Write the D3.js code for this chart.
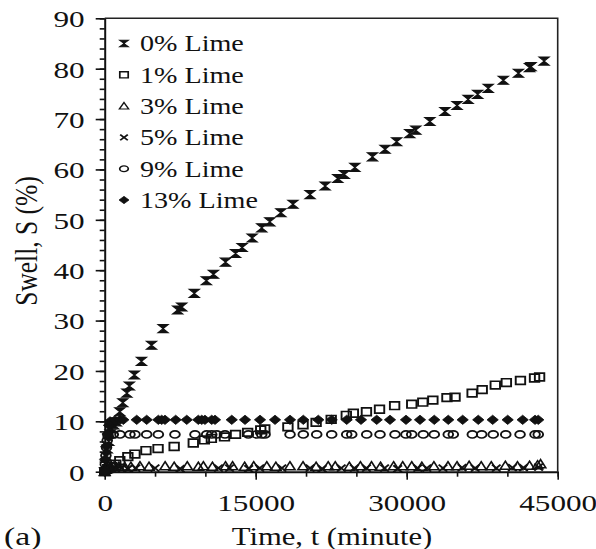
<!DOCTYPE html>
<html>
<head>
<meta charset="utf-8">
<script src="https://d3js.org/d3.v7.min.js"></script>
<style>
  html, body { margin: 0; padding: 0; background: #fff; }
  svg text { font-family: "Liberation Serif", "Times New Roman", serif; fill: #111; }
</style>
</head>
<body>
<div id="chart"></div>
<script>
// Swell vs time for lime contents
const legendLabels = ['0% Lime', '1% Lime', '3% Lime', '5% Lime', '9% Lime', '13% Lime']
const xTicks = [0, 15000, 30000, 45000]
const yTicks = [0, 10, 20, 30, 40, 50, 60, 70, 80, 90]

const t0 = [0, 60, 150, 250, 400, 550, 700, 900, 1150, 1500, 1800, 2200, 2450, 2950, 3650, 4650, 5800, 7250, 7650, 8900, 10100, 10800, 12000, 13000, 13650, 14650, 15600, 16400, 17500, 18700, 20400, 21900, 23150, 23800, 24850, 26600, 27850, 29000, 30300, 30900, 32300, 33800, 35000, 36100, 37050, 38100, 39600, 41100, 42200, 42350, 43650]
const s0 = [0, 1.5, 3, 4.5, 6, 7.5, 8.5, 9.3, 9.9, 11.9, 13.7, 15.6, 17.0, 19.2, 21.9, 25.1, 28.4, 32.1, 32.7, 35.4, 37.9, 39.2, 41.6, 43.3, 44.5, 46.4, 48.4, 49.6, 51.4, 53.1, 55.0, 56.7, 58.2, 59.0, 60.4, 62.5, 64.0, 65.5, 67.1, 67.8, 69.5, 71.5, 72.7, 73.9, 74.9, 76.1, 77.7, 79.1, 80.2, 80.4, 81.5]

const t1 = [0, 300, 700, 1100, 1500, 2300, 3000, 4100, 5300, 6900, 8800, 9900, 10600, 11900, 13000, 14200, 15500, 15900, 18200, 19700, 21000, 22500, 24000, 24700, 26000, 27300, 28800, 30500, 31600, 32600, 34000, 34800, 36500, 37500, 38800, 39900, 41300, 42700, 43200]
const s1 = [0, 0.6, 1.0, 1.5, 2.2, 3.0, 3.5, 4.2, 4.6, 5.0, 5.7, 6.3, 6.6, 6.9, 7.4, 7.8, 8.3, 8.5, 8.9, 9.3, 9.8, 10.4, 11.2, 11.6, 11.9, 12.4, 13.1, 13.4, 13.8, 14.2, 14.7, 14.8, 15.6, 16.3, 17.2, 17.7, 18.1, 18.6, 18.8]

const t3 = [0, 100, 250, 500, 900, 1400, 2000, 2600, 3500, 4400, 6000, 6900, 8200, 9300, 9800, 10700, 12000, 12700, 13900, 14800, 16100, 17000, 18400, 19700, 21000, 22200, 22900, 24300, 25400, 26500, 27400, 28700, 29600, 30500, 31500, 32700, 34100, 35000, 36200, 37400, 38400, 39800, 41000, 42200, 43000, 43300]
const s3 = [0, 0.4, 0.7, 0.9, 1.0, 1.0, 0.9, 1.0, 1.1, 1.0, 1.1, 1.0, 1.1, 1.0, 1.1, 1.0, 1.1, 1.1, 1.0, 1.1, 1.1, 1.0, 1.1, 1.1, 1.0, 1.1, 1.1, 1.0, 1.1, 1.1, 1.0, 1.1, 1.1, 1.1, 1.0, 1.1, 1.1, 1.1, 1.2, 1.1, 1.1, 1.2, 1.1, 1.2, 1.3, 1.5]

const t5 = [0, 150, 400, 700, 1100, 1700, 2300, 3100, 5000, 7500, 11300, 12400, 14300, 15400, 17600, 20400, 21600, 23500, 24800, 26000, 27800, 29100, 31100, 32000, 33600, 35500, 36800, 38900, 40500, 41600, 43100]
const s5 = [0, 0.3, 0.5, 0.6, 0.7, 0.7, 0.6, 0.7, 0.7, 0.6, 0.7, 0.7, 0.6, 0.7, 0.7, 0.7, 0.6, 0.7, 0.7, 0.7, 0.7, 0.6, 0.7, 0.7, 0.7, 0.8, 0.7, 0.7, 0.8, 0.8, 0.9]

const t9 = [0, 60, 120, 180, 250, 330, 850, 1520, 2510, 3010, 4170, 5330, 6980, 8970, 10130, 10630, 11130, 11950, 14270, 15100, 15600, 15930, 18410, 19730, 21060, 22550, 24040, 24540, 26030, 27350, 28840, 29930, 30500, 31650, 32740, 34130, 34630, 36520, 37450, 38600, 39840, 41260, 42750, 43070]
const s9 = [0, 1.5, 3.2, 4.8, 6.2, 7.2, 7.4, 7.4, 7.4, 7.4, 7.4, 7.4, 7.4, 7.4, 7.4, 7.4, 7.4, 7.4, 7.4, 7.4, 7.4, 7.4, 7.4, 7.4, 7.4, 7.4, 7.4, 7.4, 7.4, 7.4, 7.4, 7.4, 7.4, 7.4, 7.4, 7.4, 7.4, 7.4, 7.4, 7.4, 7.4, 7.4, 7.4, 7.4]

const t13 = [0, 60, 150, 280, 420, 530, 1020, 1520, 1850, 3180, 4170, 5330, 5660, 5990, 7050, 8150, 9300, 9640, 9960, 10630, 10960, 12620, 13940, 15430, 16920, 18410, 19730, 21220, 22550, 24040, 25460, 27020, 28340, 29930, 31320, 32740, 34130, 35560, 37110, 38540, 40030, 41520, 42750, 43070]
const s13 = [0, 2.5, 5, 7.5, 9.2, 10.0, 10.2, 10.3, 10.3, 10.3, 10.3, 10.3, 10.3, 10.3, 10.3, 10.3, 10.3, 10.3, 10.3, 10.3, 10.3, 10.3, 10.3, 10.3, 10.3, 10.3, 10.3, 10.3, 10.3, 10.3, 10.3, 10.3, 10.3, 10.3, 10.3, 10.3, 10.3, 10.3, 10.3, 10.3, 10.3, 10.3, 10.3, 10.3]

const seriesTimes = [t0, t1, t3, t5, t9, t13]
const seriesSwell = [s0, s1, s3, s5, s9, s13]

// the source figure is stretched horizontally, text and markers included
const SX = 1.25

const width = 596, height = 549
const svg = d3.select('#chart').append('svg')
  .attr('width', width)
  .attr('height', height)
  .style('display', 'block')

svg.append('rect').attr('width', width).attr('height', height).attr('fill', '#fff')

const x = d3.scaleLinear().domain([0, 45000]).range([104.7, 557.7])
const y = d3.scaleLinear().domain([0, 90]).range([471.7, 18.3])

// marker shapes, one per series
const markers = [
  { d: 'M-4.5,-4L4.5,-4L-4.5,4L4.5,4Z', fill: '#111', sw: 1.1 },
  { d: 'M-4.2,-3.8H4.2V3.8H-4.2Z', fill: 'none', sw: 1.7 },
  { d: 'M0,-4.5L4.6,3.6H-4.6Z', fill: 'none', sw: 1.5 },
  { d: 'M-3.8,-3.5L3.8,3.5M3.8,-3.5L-3.8,3.5', fill: 'none', sw: 1.9 },
  { d: 'M-4.3,0A4.3,3.6 0 1,0 4.3,0A4.3,3.6 0 1,0 -4.3,0Z', fill: 'none', sw: 1.7 },
  { d: 'M0,-4.6L5,0L0,4.6L-5,0Z', fill: '#111', sw: 0.8 }
]

// axes: minor ticks first, then majors with labels
svg.append('g')
  .attr('transform', `translate(0,${y(0)})`)
  .call(d3.axisBottom(x).tickValues(d3.range(0, 45001, 5000)).tickSize(5).tickFormat(''))
  .call(g => g.select('.domain').remove())

const xAxis = svg.append('g')
  .attr('transform', `translate(0,${y(0)})`)
  .call(d3.axisBottom(x).tickValues(xTicks).tickSize(8).tickSizeOuter(0).tickFormat(d3.format('d')))

xAxis.selectAll('text')
  .attr('y', 22)
  .attr('dy', '0.71em')
  .attr('transform', 'scale(1.3,1)')
  .style('font-size', '24px')

svg.append('g')
  .attr('transform', `translate(${x(0)},0)`)
  .call(d3.axisLeft(y).tickValues(d3.range(0, 91, 2)).tickSize(5).tickFormat(''))
  .call(g => g.select('.domain').remove())

const yAxis = svg.append('g')
  .attr('transform', `translate(${x(0)},0)`)
  .call(d3.axisLeft(y).tickValues(yTicks).tickSize(9).tickSizeOuter(0).tickFormat(d3.format('d')))

yAxis.selectAll('text')
  .attr('x', -20 / 1.3)
  .attr('dy', '0.35em')
  .attr('transform', 'scale(1.3,1)')
  .style('font-size', '24px')

svg.selectAll('.tick line').attr('stroke', '#111').attr('stroke-width', 1.6)
svg.selectAll('.domain').attr('stroke', '#111').attr('stroke-width', 2)

// frame top and right
svg.append('path')
  .attr('d', `M${x(0)},${y(90)}H${x(45000)}V${y(0)}`)
  .attr('fill', 'none')
  .attr('stroke', '#222')
  .attr('stroke-width', 1.6)

// data points
const plot = svg.append('g')
seriesTimes.forEach((ts, i) => {
  const m = markers[i]
  plot.append('g').selectAll('path')
    .data(ts.map((t, j) => [t, seriesSwell[i][j]]))
    .join('path')
    .attr('d', m.d)
    .attr('transform', d => `translate(${x(d[0])},${y(d[1])}) scale(${SX * 0.9},1)`)
    .attr('fill', m.fill)
    .attr('stroke', '#111')
    .attr('stroke-width', m.sw)
})

// legend
const legend = svg.append('g')
legendLabels.forEach((lab, i) => {
  const ly = 43.5 + i * 31.3
  const m = markers[i]
  legend.append('path')
    .attr('d', m.d)
    .attr('transform', `translate(124,${ly}) scale(${SX * 0.8},0.8)`)
    .attr('fill', m.fill)
    .attr('stroke', '#111')
    .attr('stroke-width', m.sw)
  legend.append('text')
    .attr('transform', `translate(140,${ly}) scale(${SX},1)`)
    .attr('dy', '0.35em')
    .style('font-size', '22.5px')
    .text(lab)
})

// axis titles
svg.append('text')
  .attr('transform', `translate(332,545) scale(${SX},1)`)
  .attr('text-anchor', 'middle')
  .style('font-size', '24.5px')
  .text('Time, t (minute)')

svg.append('text')
  .attr('transform', `translate(4,545) scale(1.35,1)`)
  .style('font-size', '25px')
  .text('(a)')

svg.append('text')
  .attr('transform', `translate(37,241) scale(${SX},1) rotate(-90)`)
  .attr('text-anchor', 'middle')
  .style('font-size', '25.5px')
  .text('Swell, S (%)')
</script>
</body>
</html>
